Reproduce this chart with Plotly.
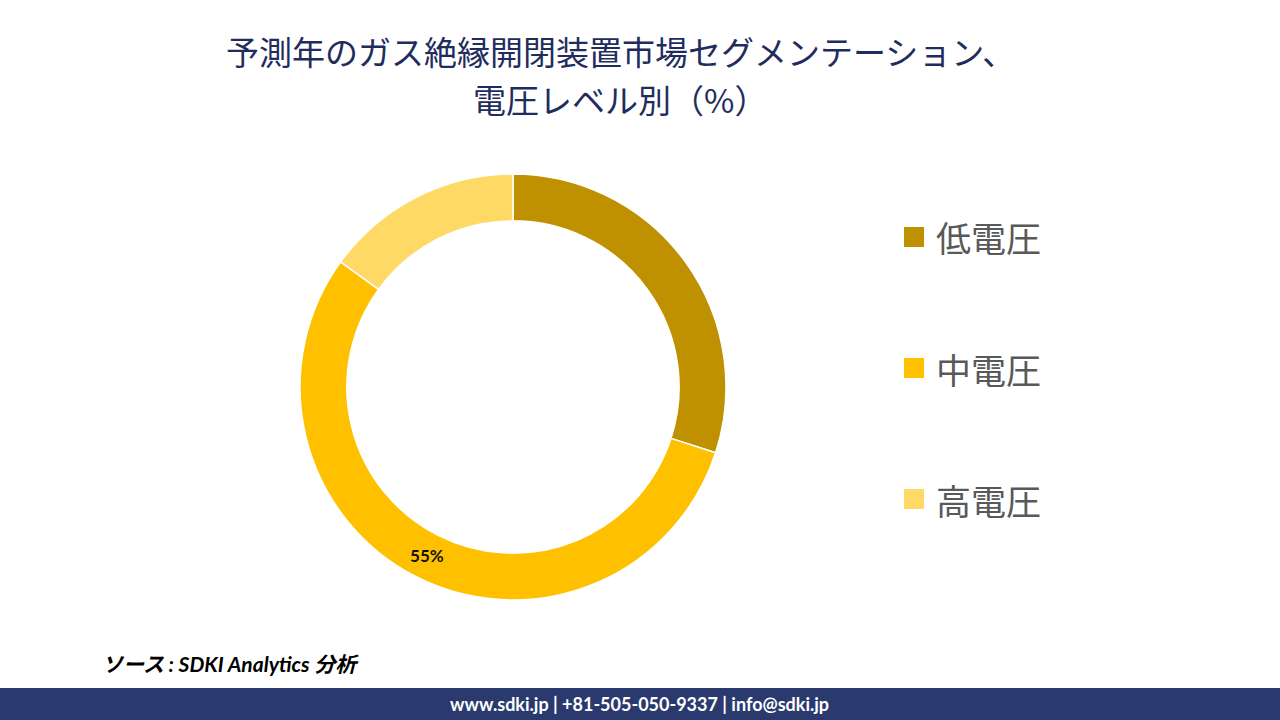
import plotly.graph_objects as go

categories = ["低電圧", "中電圧", "高電圧"]
shares = [30, 55, 15]
shown_labels = ["", "55%", ""]
colors = ["#BF9000", "#FFC000", "#FFD966"]

title_lines = ["予測年のガス絶縁開閉装置市場セグメンテーション、", "電圧レベル別（%）"]
source_text = "ソース : SDKI Analytics 分析"
footer_text = "www.sdki.jp | +81-505-050-9337 | info@sdki.jp"

W, H = 1280, 720

fig = go.Figure()
fig.add_trace(go.Pie(
    labels=categories,
    values=shares,
    text=shown_labels,
    textinfo="text",
    texttemplate="<b>%{text}</b>",
    textposition="inside",
    insidetextorientation="horizontal",
    textfont=dict(family="Lato, Open Sans, sans-serif", size=17, color="#111111"),
    marker=dict(colors=colors, line=dict(color="white", width=1.5)),
    hole=0.78,
    sort=False,
    direction="clockwise",
    rotation=0,
    domain=dict(x=[(513 - 213) / W, (513 + 213) / W], y=[(720 - 600) / H, (720 - 174) / H]),
    showlegend=False,
))

shapes = []
annotations = []

# custom legend
leg_y = [237, 368, 499]
for cat, col, yc in zip(categories, colors, leg_y):
    shapes.append(dict(type="rect", xref="paper", yref="paper",
                       x0=904 / W, x1=924 / W, y0=1 - (yc + 10) / H, y1=1 - (yc - 10) / H,
                       fillcolor=col, line=dict(width=0)))
    annotations.append(dict(text=cat, xref="paper", yref="paper", x=934 / W, y=1 - yc / H,
                            xanchor="left", yanchor="middle", showarrow=False,
                            font=dict(family="Noto Sans CJK JP", size=35, color="#595959")))

# title
title_y = [51, 99]
for line, ty in zip(title_lines, title_y):
    annotations.append(dict(text=line, xref="paper", yref="paper", x=620 / W, y=1 - ty / H,
                            xanchor="center", yanchor="middle", showarrow=False,
                            font=dict(family="Noto Sans CJK JP", size=33, color="#1F2D5E")))

# source
annotations.append(dict(text="<b><i>" + source_text + "</i></b>", xref="paper", yref="paper",
                        x=100 / W, y=1 - 663 / H, xanchor="left", yanchor="middle", showarrow=False,
                        font=dict(family="Lato, Noto Sans CJK JP", size=21, color="#000000")))

# footer bar
shapes.append(dict(type="rect", xref="paper", yref="paper", x0=0, x1=1, y0=0, y1=(720 - 688) / H,
                   fillcolor="#2A3A6E", line=dict(width=0), layer="below"))
annotations.append(dict(text="<b>" + footer_text + "</b>", xref="paper", yref="paper",
                        x=639 / W, y=1 - 704 / H, xanchor="center", yanchor="middle", showarrow=False,
                        font=dict(family="Lato, Open Sans, sans-serif", size=18, color="#FFFFFF")))

fig.update_layout(
    width=W, height=H,
    margin=dict(l=0, r=0, t=0, b=0),
    paper_bgcolor="white",
    plot_bgcolor="white",
    shapes=shapes,
    annotations=annotations,
)

fig.write_html("out.html")
